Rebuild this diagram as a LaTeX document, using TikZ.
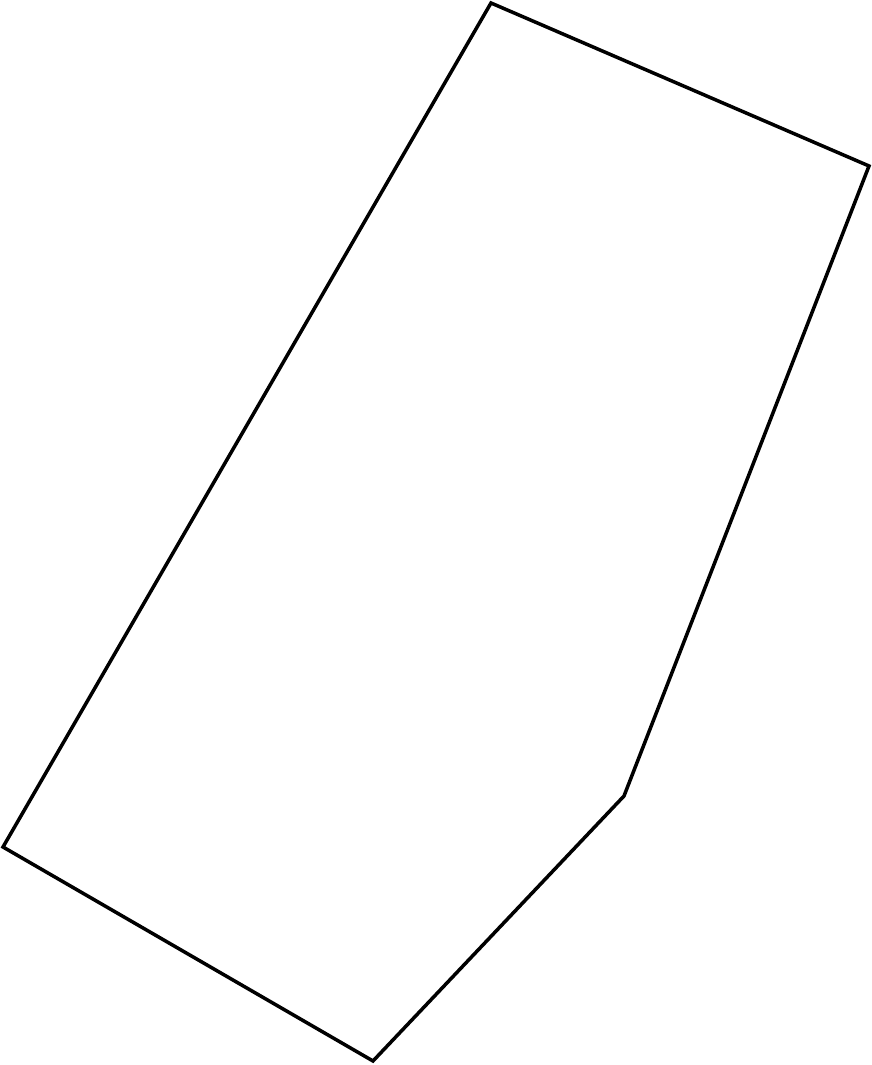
\documentclass[tikz,border=0pt]{standalone}
\usepackage{tikz}

\begin{document}
\begin{tikzpicture}[scale=1.0]
  \useasboundingbox (0,0) rectangle (8.72,10.65);
    \draw[line width=1pt,line join=miter] (4.91,10.62) -- (8.69,8.99) -- (6.24,2.69)
      -- (3.73,0.04) -- (0.03,2.18) -- cycle;
\end{tikzpicture}
\end{document}
